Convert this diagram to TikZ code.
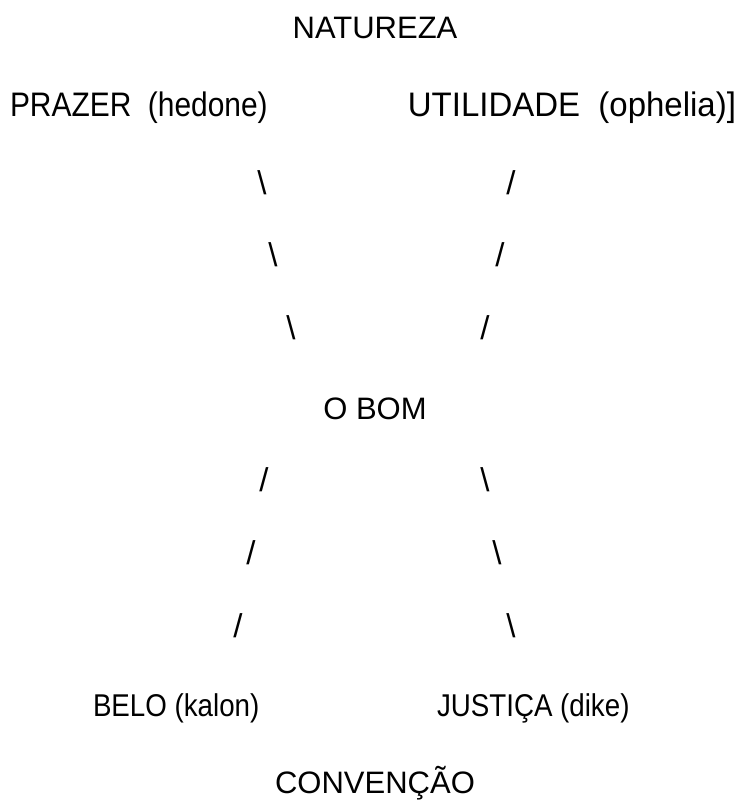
\documentclass[tikz,border=0pt]{standalone}
\usepackage{fontspec}
\setmainfont{Liberation Sans}
\newfontfamily\narrowfont[FakeStretch=0.88]{Liberation Sans}
\newfontfamily\utilfont[FakeStretch=0.97]{Liberation Sans}
\begin{document}
\begin{tikzpicture}[x=1pt,y=-1pt,
  lbl/.style={inner sep=0pt,outer sep=0pt,font=\fontsize{31}{36}\selectfont},
  nlbl/.style={inner sep=0pt,outer sep=0pt,font=\narrowfont\fontsize{34}{40}\selectfont},
  ulbl/.style={inner sep=0pt,outer sep=0pt,font=\utilfont\fontsize{34}{40}\selectfont},
  blbl/.style={inner sep=0pt,outer sep=0pt,font=\narrowfont\fontsize{31.5}{38}\selectfont},
  slash/.style={inner sep=0pt,outer sep=0pt,font=\fontsize{33}{40}\selectfont}]
\useasboundingbox (0,0) rectangle (741,809);
\node[lbl,anchor=base] (nat) at (375,38) {NATUREZA};
\node[nlbl,anchor=base west] (praz) at (10,116) {PRAZER\ \ (hedone)};
\node[ulbl,anchor=base east] (util) at (736,116) {UTILIDADE\ \ (ophelia)]};
\node[slash] (a1) at (262,183) {\textbackslash};
\node[slash] (a2) at (273,255) {\textbackslash};
\node[slash] (a3) at (291,328) {\textbackslash};
\node[slash] (b1) at (511,183) {/};
\node[slash] (b2) at (500,255) {/};
\node[slash] (b3) at (485,328) {/};
\node[lbl,anchor=base] (bom) at (375,419) {O BOM};
\node[slash] (c1) at (264,480) {/};
\node[slash] (c2) at (251,553) {/};
\node[slash] (c3) at (238,626) {/};
\node[slash] (d1) at (485,480) {\textbackslash};
\node[slash] (d2) at (497,553) {\textbackslash};
\node[slash] (d3) at (511,626) {\textbackslash};
\node[blbl,anchor=base west] (belo) at (93,716) {BELO (kalon)};
\node[blbl,anchor=base west] (just) at (437,716) {JUSTIÇA (dike)};
\node[lbl,anchor=base] (conv) at (375,793) {CONVENÇÃO};
\end{tikzpicture}
\end{document}
